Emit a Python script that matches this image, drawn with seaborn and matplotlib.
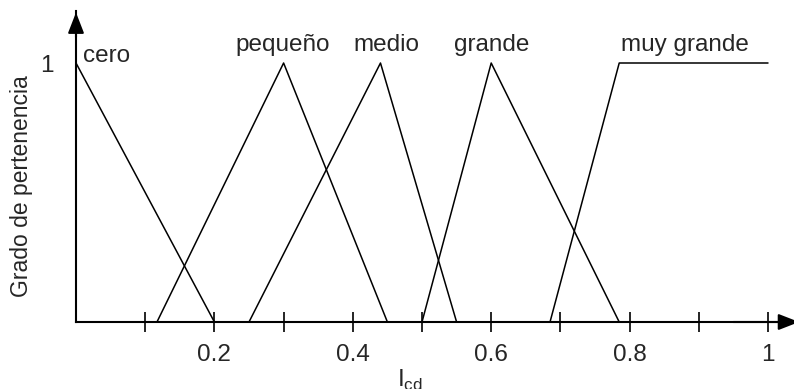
import matplotlib
matplotlib.use("Agg")
import matplotlib.pyplot as plt
import seaborn as sns
import pandas as pd

# ---- data ----
names = ["cero", "pequeño", "medio", "grande", "muy grande"]
cero_x = [0.0, 0.2]
cero_y = [1.0, 0.0]
pequeno_x = [0.117, 0.3, 0.45]
pequeno_y = [0.0, 1.0, 0.0]
medio_x = [0.25, 0.44, 0.55]
medio_y = [0.0, 1.0, 0.0]
grande_x = [0.5, 0.6, 0.785]
grande_y = [0.0, 1.0, 0.0]
muy_x = [0.685, 0.785, 1.0]
muy_y = [0.0, 1.0, 1.0]
label_x = [0.01, 0.299, 0.449, 0.60, 0.88]
label_y = [1.0, 1.04, 1.04, 1.04, 1.04]
x_ticks = [0.1, 0.2, 0.3, 0.4, 0.5, 0.6, 0.7, 0.8, 0.9, 1.0]
x_ticklabels = ["", "0.2", "", "0.4", "", "0.6", "", "0.8", "", "1"]
y_ticks = [1.0]
y_ticklabels = ["1"]

series_x = [cero_x, pequeno_x, medio_x, grande_x, muy_x]
series_y = [cero_y, pequeno_y, medio_y, grande_y, muy_y]

rows = []
for n, xs, ys in zip(names, series_x, series_y):
    for i, (a, b) in enumerate(zip(xs, ys)):
        rows.append({"name": n, "x": a, "y": b, "order": i})
df = pd.DataFrame(rows)

sns.set_style("white")
plt.rcParams["font.family"] = ["Liberation Sans", "DejaVu Sans"]
plt.rcParams["mathtext.fontset"] = "custom"
plt.rcParams["mathtext.rm"] = "Liberation Sans"
FS = 17.5

fig = plt.figure(figsize=(7.94, 3.89), dpi=100)
ax = fig.add_axes([76 / 794, 67 / 389, 1.04 * 692 / 794, 1.2 * 259 / 389])

for n in names:
    sub = df[df["name"] == n]
    sns.lineplot(data=sub, x="x", y="y", sort=False, estimator=None,
                 color="black", lw=1.1, ax=ax)

for n, lx, ly in zip(names, label_x, label_y):
    ha = "left" if n == "cero" else "center"
    ax.text(lx, ly + 0.005, n, ha=ha, va="baseline", fontsize=FS)

ax.set_xlim(0, 1.04)
ax.set_ylim(0, 1.2)
for s in ["top", "right"]:
    ax.spines[s].set_visible(False)
for s in ["left", "bottom"]:
    ax.spines[s].set_linewidth(1.5)
    ax.spines[s].set_color("black")

ax.set_xticks(x_ticks)
ax.set_xticklabels(x_ticklabels, fontsize=FS)
ax.tick_params(axis="x", bottom=True, direction="inout", length=14.4,
               width=1.2, color="black", pad=8.5)
ax.set_yticks(y_ticks)
ax.set_yticklabels(y_ticklabels, fontsize=FS)
ax.tick_params(axis="y", left=False, length=0, pad=16)

# arrows
ax.annotate("", xy=(1.045, 0), xytext=(0.95, 0),
            arrowprops=dict(arrowstyle="-|>,head_length=0.9,head_width=0.35",
                            lw=1.5, color="black", shrinkA=0, shrinkB=0,
                            mutation_scale=14),
            annotation_clip=False)
ax.annotate("", xy=(0, 1.195), xytext=(0, 1.1),
            arrowprops=dict(arrowstyle="-|>,head_length=0.9,head_width=0.35",
                            lw=1.5, color="black", shrinkA=0, shrinkB=0,
                            mutation_scale=14),
            annotation_clip=False)

ax.set_xlabel("")
ax.set_ylabel("")
ax.text((410 - 76) / 692, -0.178, r"I$_{\mathregular{cd}}$", ha="center",
        va="top", fontsize=FS)
ax.text(-55 / 719.7, 0.4376, "Grado de pertenencia", rotation=90,
        ha="center", va="center", fontsize=16.5, transform=ax.transAxes)

fig.savefig("out.png", dpi=100)
